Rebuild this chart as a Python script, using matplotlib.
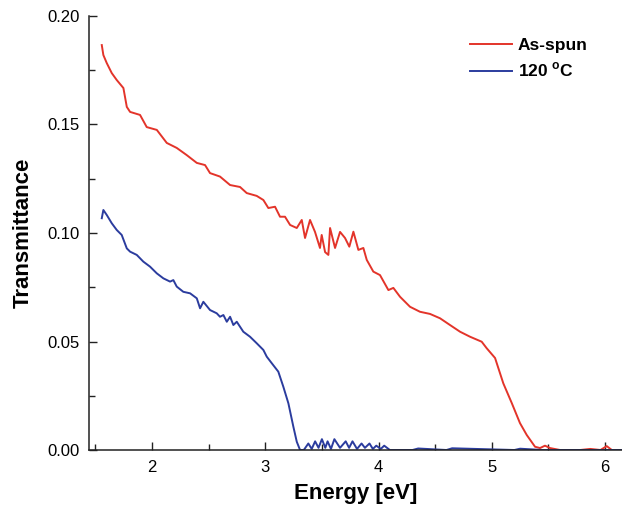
import matplotlib
matplotlib.use("Agg")
import matplotlib.pyplot as plt
from matplotlib.ticker import MultipleLocator

plt.rcParams["font.family"] = ["Liberation Sans", "DejaVu Sans"]
plt.rcParams["mathtext.fontset"] = "custom"
plt.rcParams["mathtext.bf"] = "Liberation Sans:bold"
plt.rcParams["mathtext.rm"] = "Liberation Sans"

# --- data ---
e_spun = [1.556, 1.570, 1.600, 1.644, 1.688, 1.747, 1.777, 1.806, 1.894, 1.953,
          2.042, 2.130, 2.218, 2.306, 2.395, 2.468, 2.512, 2.600, 2.689, 2.777,
          2.836, 2.924, 2.983, 3.027, 3.086, 3.130, 3.174, 3.219, 3.278, 3.322,
          3.351, 3.395, 3.439, 3.483, 3.498, 3.528, 3.557, 3.572, 3.616, 3.660,
          3.704, 3.742, 3.778, 3.822, 3.866, 3.896, 3.954, 4.013, 4.087, 4.131,
          4.190, 4.278, 4.366, 4.455, 4.543, 4.631, 4.720, 4.808, 4.911, 4.955,
          5.029, 5.102, 5.176, 5.249, 5.309, 5.382, 5.426, 5.470, 5.514, 5.603,
          5.780, 5.870, 5.960, 6.015, 6.060, 6.150]
t_spun = [0.1866, 0.1820, 0.1783, 0.1737, 0.1705, 0.1668, 0.1581, 0.1558, 0.1544, 0.1488,
          0.1475, 0.1415, 0.1392, 0.1359, 0.1323, 0.1313, 0.1276, 0.1260, 0.1221, 0.1212,
          0.1184, 0.1171, 0.1152, 0.1115, 0.1121, 0.1075, 0.1075, 0.1037, 0.1023, 0.1060,
          0.0977, 0.1060, 0.1005, 0.0931, 0.0991, 0.0912, 0.0899, 0.1023, 0.0931, 0.1005,
          0.0977, 0.0937, 0.1006, 0.0922, 0.0931, 0.0876, 0.0822, 0.0806, 0.0737, 0.0747,
          0.0706, 0.0660, 0.0637, 0.0627, 0.0607, 0.0576, 0.0545, 0.0522, 0.0499, 0.0469,
          0.0424, 0.0307, 0.0217, 0.0124, 0.0069, 0.0015, 0.0009, 0.0020, 0.0009, 0.0,
          0.0, 0.0005, 0.0, 0.0018, 0.0, 0.0]

e_120 = [1.556, 1.570, 1.600, 1.644, 1.688, 1.732, 1.777, 1.806, 1.865, 1.923,
         1.982, 2.042, 2.100, 2.159, 2.188, 2.218, 2.276, 2.336, 2.395, 2.424,
         2.453, 2.512, 2.571, 2.600, 2.630, 2.660, 2.689, 2.718, 2.748, 2.806,
         2.865, 2.924, 2.983, 3.013, 3.057, 3.115, 3.159, 3.204, 3.248, 3.278,
         3.307, 3.34, 3.38, 3.41, 3.44, 3.47, 3.50, 3.53, 3.55, 3.58, 3.61, 3.66,
         3.71, 3.74, 3.77, 3.81, 3.85, 3.88, 3.92, 3.95, 3.98, 4.02, 4.05, 4.10,
         4.30, 4.35, 4.60, 4.65, 5.20, 5.25, 5.45, 5.50, 6.15]
t_120 = [0.1068, 0.1106, 0.1083, 0.1045, 0.1014, 0.0991, 0.0929, 0.0914, 0.0899, 0.0868,
         0.0845, 0.0814, 0.0791, 0.0776, 0.0783, 0.0753, 0.0729, 0.0722, 0.0699, 0.0653,
         0.0683, 0.0645, 0.0630, 0.0614, 0.0622, 0.0591, 0.0614, 0.0576, 0.0591, 0.0545,
         0.0522, 0.0492, 0.0461, 0.0430, 0.0400, 0.0361, 0.0292, 0.0215, 0.0107, 0.0038,
         0.0, 0.0, 0.003, 0.0005, 0.004, 0.001, 0.005, 0.001, 0.004, 0.0005, 0.005, 0.001,
         0.004, 0.001, 0.004, 0.0005, 0.003, 0.001, 0.003, 0.0005, 0.002, 0.0005, 0.002, 0.0,
         0.0, 0.0007, 0.0, 0.0008, 0.0, 0.0006, 0.0, 0.0, 0.0]

labels = ["As-spun", r"120 $^{\mathbf{o}}$C"]
colors = ["#e3342a", "#2b3c9e"]

# --- plot ---
fig = plt.figure(figsize=(6.22, 5.09), dpi=100)
ax = fig.add_axes([0.1436, 0.1159, 0.8564, 0.8527])

ax.plot(e_spun, t_spun, color=colors[0], lw=1.4, label=labels[0])
ax.plot(e_120, t_120, color=colors[1], lw=1.4, label=labels[1])

ax.set_xlim(1.446, 6.15)
ax.set_ylim(0.0, 0.20)

ax.xaxis.set_major_locator(MultipleLocator(1))
ax.xaxis.set_minor_locator(MultipleLocator(0.5))
ax.yaxis.set_major_locator(MultipleLocator(0.05))
ax.yaxis.set_minor_locator(MultipleLocator(0.025))
ax.yaxis.set_major_formatter(matplotlib.ticker.FormatStrFormatter("%.2f"))

ax.tick_params(which="both", direction="in", labelsize=12, pad=7, width=1, color="#222222")
ax.tick_params(which="major", length=6)
ax.tick_params(which="minor", length=4)

for s in ["top", "right"]:
    ax.spines[s].set_visible(False)
for s in ["left", "bottom"]:
    ax.spines[s].set_linewidth(1.1)
    ax.spines[s].set_color("#222222")

ax.set_xlabel("Energy [eV]", fontsize=16, fontweight="bold", labelpad=6)
ax.set_ylabel("Transmittance", fontsize=16, fontweight="bold", labelpad=10)

leg = ax.legend(loc="upper right", bbox_to_anchor=(0.965, 0.985), frameon=False,
                handlelength=2.4, handletextpad=0.35, labelspacing=0.45,
                prop={"size": 12.5, "weight": "bold"})
for line in leg.get_lines():
    line.set_linewidth(1.4)

fig.savefig("out.png", dpi=100)
